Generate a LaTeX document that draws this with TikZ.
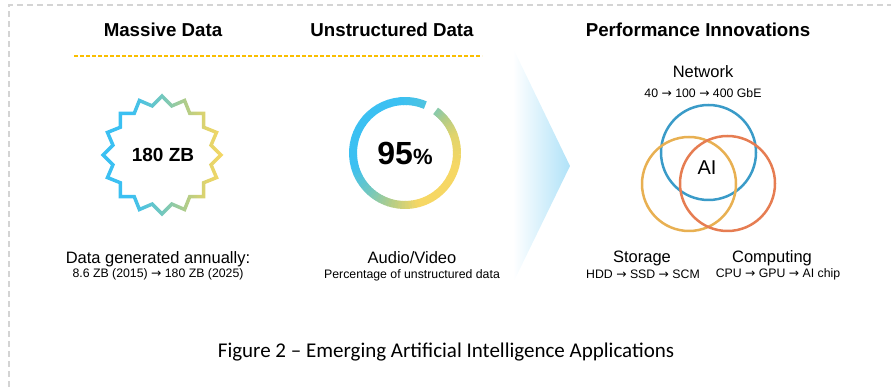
\documentclass[tikz,border=0pt]{standalone}
\usepackage{fontspec}
\setmainfont{Liberation Sans}
\newfontfamily\capfont{Carlito}
\newfontfamily\arrowfont{DejaVu Sans}
\newcommand{\rarr}{{\arrowfont\fontsize{12.3}{14}\selectfont →}}
\definecolor{sblue}{RGB}{59,192,242}
\definecolor{steal}{RGB}{115,200,190}
\definecolor{sgreen}{RGB}{180,205,135}
\definecolor{sygreen}{RGB}{225,212,108}
\definecolor{syellow}{RGB}{246,215,100}
\definecolor{chevblue}{RGB}{176,226,248}
\definecolor{dashyellow}{RGB}{250,190,0}
\definecolor{bordergrey}{RGB}{212,212,212}
\definecolor{vblue}{RGB}{58,155,200}
\definecolor{vyellow}{RGB}{232,176,82}
\definecolor{vorange}{RGB}{230,125,82}
\colorlet{kA}{sblue!65!steal}
\colorlet{kB}{steal!70!sgreen}
\pgfdeclarehorizontalshading{starshade}{100bp}{color(0bp)=(sblue); color(25bp)=(sblue); color(37bp)=(sblue); color(50bp)=(steal); color(60bp)=(sgreen); color(68bp)=(sygreen); color(75bp)=(syellow); color(100bp)=(syellow)}
\tikzset{
  title/.style={font=\fontsize{18.7}{22}\selectfont\bfseries, inner sep=0pt},
  body/.style={font=\fontsize{16.5}{19}\selectfont, inner sep=0pt},
  small/.style={font=\fontsize{12.3}{14}\selectfont, inner sep=0pt},
  venn/.style={line width=2.5pt},
}
\begin{document}
\begin{tikzpicture}[x=1pt,y=1pt]
\useasboundingbox (0,0) rectangle (891,387);
% border
\draw[draw=bordergrey, line width=1.2pt, dash pattern=on 6pt off 4pt] (9,0) -- (9,382) -- (891,382);
% titles
\node[title] (t1) at (163,357) {Massive Data};
\node[title] (t2) at (392,357) {Unstructured Data};
\node[title] (t3) at (698,357) {Performance Innovations};
\draw[draw=dashyellow, line width=1.3pt, dash pattern=on 4pt off 2pt] (74,331) -- (482,331);
% star
\shade[shading=starshade, even odd rule, shift={(162,232)}]
  (0:61.5) \foreach \i in {0,...,15}{ -- (\i*22.5+11.25:52.1) -- (\i*22.5+22.5:61.5)} -- cycle
  (0:56.5) \foreach \i in {0,...,15}{ -- (\i*22.5+11.25:47.9) -- (\i*22.5+22.5:56.5)} -- cycle;
\node[font=\fontsize{19}{22}\selectfont\bfseries, inner sep=0pt] (zb) at (163,232) {180 ZB};
\node[body] (dga) at (158,128) {Data generated annually:};
\node[small] (dgb) at (158,113) {8.6 ZB (2015) \rarr{} 180 ZB (2025)};
% ring
\begin{scope}[shift={(405,234)}]
\foreach \a/\b/\ca/\cb in {67/95/kA/sblue, 95/195/sblue/sblue, 195/228/sblue/steal, 228/255/steal/sgreen, 255/285/sgreen/syellow, 285/345/syellow/syellow, 345/380/syellow/sygreen, 380/400/sygreen/sgreen, 400/414/sgreen/kB}{
  \foreach \s in {0,...,7}{
    \pgfmathsetmacro\ta{\a+(\b-\a)*\s/8}
    \pgfmathsetmacro\tb{min(\a+(\b-\a)*(\s+1)/8+0.6,414)}
    \pgfmathsetmacro\p{100-(\s+0.5)*12.5}
    \draw[line width=8pt, draw={\ca!\p!\cb}] (\ta:52) arc[start angle=\ta, end angle=\tb, radius=52];
  }
}
\end{scope}
\node[inner sep=0pt] (pct) at (405,234) {\fontsize{32}{36}\selectfont\bfseries 95\fontsize{22}{26}\selectfont\%};
\node[body] (av) at (412,129) {Audio/Video};
\node[small] (avs) at (412,112) {Percentage of unstructured data};
% chevron
\shade[left color=white, right color=chevblue] (513,339) -- (570,221) -- (513,104) -- cycle;
% venn
\node[body] (net) at (703,315) {Network};
\node[small] (nets) at (703,294) {40 \rarr{} 100 \rarr{} 400 GbE};
\draw[venn, draw=vblue] (708.5,234.5) circle[radius=47.5];
\draw[venn, draw=vyellow] (689,203) circle[radius=47];
\draw[venn, draw=vorange] (727.5,203.5) circle[radius=47.5];
\node[font=\fontsize{20}{24}\selectfont, inner sep=0pt] (ai) at (707,219) {AI};
\node[body] (sto) at (642,129) {Storage};
\node[small] (stos) at (643,113) {HDD \rarr{} SSD \rarr{} SCM};
\node[body] (cmp) at (772,129) {Computing};
\node[small] (cmps) at (778,113) {CPU \rarr{} GPU \rarr{} AI chip};
% caption
\node[font=\capfont\fontsize{21}{25}\selectfont, inner sep=0pt] (cap) at (446,35) {Figure 2 – Emerging Artificial Intelligence Applications};
\end{tikzpicture}
\end{document}
